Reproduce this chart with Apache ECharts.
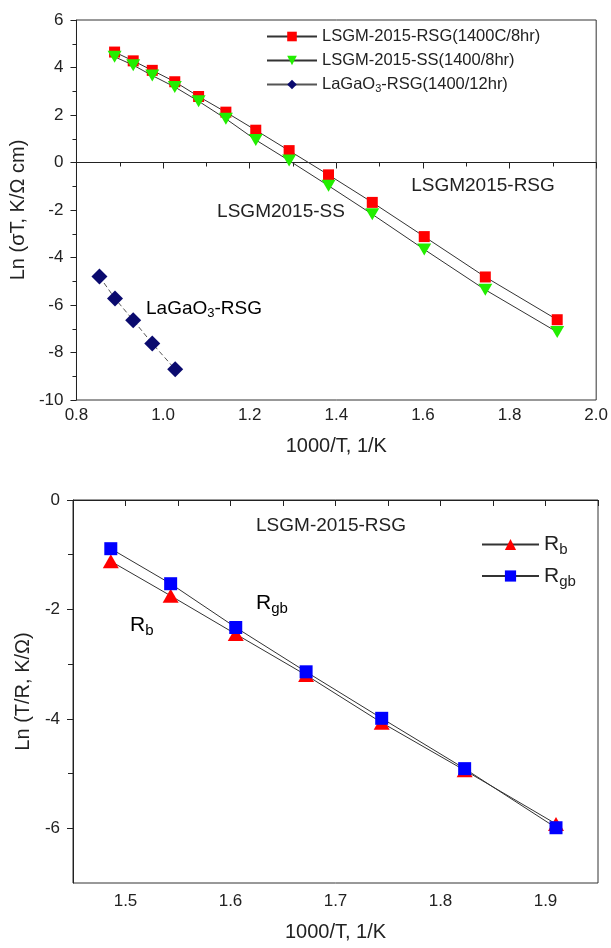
<!DOCTYPE html>
<html><head><meta charset="utf-8">
<script src="https://cdn.jsdelivr.net/npm/echarts@6/dist/echarts.min.js"></script>
<style>html,body{margin:0;padding:0;background:#fff}#c{width:611px;height:948px}</style>
</head><body><div id="c"></div>
<script>
// ---- Top chart data ----
const topX = [0.888,0.931,0.975,1.027,1.082,1.145,1.214,1.291,1.382,1.483,1.603,1.744,1.910];
const rsgY = [4.65,4.28,3.88,3.40,2.78,2.12,1.36,0.50,-0.52,-1.68,-3.12,-4.82,-6.62];
const ssY  = [4.45,4.10,3.66,3.18,2.58,1.84,0.95,0.08,-0.98,-2.18,-3.66,-5.36,-7.14];
const lagaX = [0.853,0.889,0.931,0.975,1.028];
const lagaY = [-4.80,-5.73,-6.64,-7.62,-8.71];
// ---- Bottom chart data ----
const botX = [1.486,1.543,1.605,1.672,1.744,1.823,1.910];
const rbY  = [-1.12,-1.75,-2.45,-3.20,-4.07,-4.94,-5.92];
const rgbY = [-0.89,-1.53,-2.33,-3.14,-3.99,-4.91,-5.99];
const botXLabels = [1.5,1.6,1.7,1.8,1.9];
const botXTicks = [1.45,1.5,1.55,1.6,1.65,1.7,1.75,1.8,1.85,1.9,1.95];
const botYLabels = [0,-2,-4,-6];
const botYMinor = [-1,-3,-5];

const names = ['LSGM-2015-RSG(1400C/8hr)','LSGM-2015-SS(1400/8hr)','LaGaO3-RSG(1400/12hr)','Rb','Rgb'];
const zip = (xs, ys) => xs.map((x,i)=>[x, ys[i]]);
const FONT = 'Liberation Sans, Arial, sans-serif';
const axisCol = '#222';
const downTri = 'path://M0,0 L10,0 L5,9 Z';

const chart = echarts.init(document.getElementById('c'), null, {renderer:'canvas'});
const tickLabel = {color:'#222', fontSize:17, fontFamily:FONT};
const nameStyle = {color:'#222', fontSize:20, fontFamily:FONT};
const rich = {
  n:{fontSize:16.5, fontFamily:FONT, color:'#222'},
  s:{fontSize:11, fontFamily:FONT, color:'#222', padding:[9,0,0,0]},
  a:{fontSize:19, fontFamily:FONT, color:'#222'},
  as:{fontSize:13, fontFamily:FONT, color:'#222', padding:[10,0,0,0]},
  big:{fontSize:21, fontFamily:FONT, color:'#222'},
  bs:{fontSize:15, fontFamily:FONT, color:'#222', padding:[11,0,0,0]}
};

chart.setOption({
  animation:false,
  backgroundColor:'#fff',
  grid:[
    {left:73, right:13, top:20, height:380, show:true, borderColor:'#333', borderWidth:1},
    {left:73, right:13, top:500, height:383, show:true, borderColor:'#333', borderWidth:1}
  ],
  xAxis:[
    {gridIndex:0, type:'value', min:0.8, max:2.0, interval:0.2,
     axisLine:{lineStyle:{color:axisCol}}, splitLine:{show:false},
     axisTick:{inside:false, length:6, lineStyle:{color:axisCol}},
     minorTick:{show:true, splitNumber:2, length:4, lineStyle:{color:axisCol}},
     axisLabel:Object.assign({formatter:v=>v.toFixed(1), margin:7}, tickLabel),
     name:'1000/T, 1/K', nameLocation:'middle', nameGap:36, nameTextStyle:nameStyle},
    {gridIndex:1, type:'value', min:1.45, max:1.95, interval:0.05,
     axisLine:{lineStyle:{color:axisCol}}, splitLine:{show:false},
     axisTick:{length:6, customValues:botXTicks, lineStyle:{color:axisCol}},
     axisLabel:Object.assign({customValues:botXLabels, formatter:v=>v.toFixed(1), margin:10}, tickLabel),
     name:'1000/T, 1/K', nameLocation:'middle', nameGap:39, nameTextStyle:nameStyle}
  ],
  yAxis:[
    {gridIndex:0, type:'value', min:-10, max:6, interval:2,
     axisLine:{show:true, lineStyle:{color:axisCol}}, splitLine:{show:false},
     axisTick:{show:true, length:6, lineStyle:{color:axisCol}},
     minorTick:{show:true, splitNumber:2, length:4, lineStyle:{color:axisCol}},
     axisLabel:Object.assign({margin:13}, tickLabel),
     name:'Ln (σT, K/Ω cm)', nameLocation:'middle', nameGap:34, nameTextStyle:nameStyle},
    {gridIndex:1, type:'value', min:-7, max:0, interval:1,
     axisLine:{show:true, lineStyle:{color:axisCol}}, splitLine:{show:false},
     axisTick:{show:true, length:6, customValues:botYLabels, lineStyle:{color:axisCol}},
     axisLabel:Object.assign({margin:13, customValues:botYLabels}, tickLabel),
     name:'Ln (T/R, K/Ω)', nameLocation:'middle', nameGap:34, nameTextStyle:nameStyle},
    {gridIndex:1, type:'value', min:-7, max:0, interval:1, position:'left',
     axisLine:{show:false}, splitLine:{show:false}, axisLabel:{show:false},
     axisTick:{show:true, length:5, customValues:botYMinor, lineStyle:{color:axisCol}}}
  ],
  legend:[
    {data:[names[0],names[1],names[2]], left:261, top:23, orient:'vertical', itemWidth:50, itemHeight:12, itemGap:7,
     lineStyle:{type:'solid'},
     textStyle:{fontSize:16.5, fontFamily:FONT, color:'#222', rich:rich},
     formatter:n => n.startsWith('LaGaO3') ? '{n|LaGaO}{s|3}{n|-RSG(1400/12hr)}' : '{n|'+n+'}'},
    {data:[names[3],names[4]], left:476, top:529, orient:'vertical', itemWidth:57, itemHeight:14, itemGap:8,
     textStyle:{fontSize:21, fontFamily:FONT, color:'#222', rich:rich},
     formatter:n => n==='Rb' ? '{big|R}{bs|b}' : '{big|R}{bs|gb}'}
  ],
  series:[
    {name:names[0], type:'line', xAxisIndex:0, yAxisIndex:0, data:zip(topX,rsgY),
     symbol:'rect', symbolSize:11, itemStyle:{color:'#ff0000'}, lineStyle:{color:'#333', width:1}},
    {name:names[1], type:'line', xAxisIndex:0, yAxisIndex:0, data:zip(topX,ssY),
     symbol:downTri, symbolSize:[14,12], itemStyle:{color:'#22ee00'}, lineStyle:{color:'#333', width:1}},
    {name:names[2], type:'line', xAxisIndex:0, yAxisIndex:0, data:zip(lagaX,lagaY),
     symbol:'diamond', symbolSize:16, itemStyle:{color:'#0a0a6e'}, lineStyle:{color:'#555', width:1, type:[5,3]}},
    {name:names[3], type:'line', xAxisIndex:1, yAxisIndex:1, data:zip(botX,rbY),
     symbol:'triangle', symbolSize:[16,14], itemStyle:{color:'#ff0000'}, lineStyle:{color:'#333', width:1}},
    {name:names[4], type:'line', xAxisIndex:1, yAxisIndex:1, data:zip(botX,rgbY),
     symbol:'rect', symbolSize:13, itemStyle:{color:'#0000ff'}, lineStyle:{color:'#333', width:1}}
  ],
  graphic:[
    {type:'text', x:483, y:186, style:{text:'LSGM2015-RSG', font:'19px '+FONT, fill:'#222', align:'center', verticalAlign:'middle'}},
    {type:'text', x:281, y:212, style:{text:'LSGM2015-SS', font:'19px '+FONT, fill:'#222', align:'center', verticalAlign:'middle'}},
    {type:'text', x:146, y:297, style:{text:'{a|LaGaO}{as|3}{a|-RSG}', rich:rich}},
    {type:'text', x:331, y:526, style:{text:'LSGM-2015-RSG', font:'19px '+FONT, fill:'#222', align:'center', verticalAlign:'middle'}},
    {type:'text', x:256, y:590, style:{text:'{big|R}{bs|gb}', rich:rich}},
    {type:'text', x:130, y:612, style:{text:'{big|R}{bs|b}', rich:rich}}
  ]
});
</script></body></html>
